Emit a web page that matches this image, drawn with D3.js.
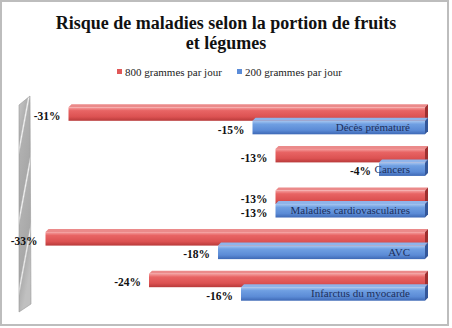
<!DOCTYPE html>
<html><head><meta charset="utf-8">
<script src="https://cdn.jsdelivr.net/npm/d3@7/dist/d3.min.js"></script>
<style>body{margin:0;background:#fff}svg{display:block}</style>
</head><body>
<script>
const categories = ["Décès prématuré","Cancers","Maladies cardiovasculaires","AVC","Infarctus du myocarde"];
const seriesNames = ["800 grammes par jour","200 grammes par jour"];
const values800 = [-31,-13,-13,-33,-24];
const values200 = [-15,-4,-13,-18,-16];
const title = ["Risque de maladies selon la portion de fruits","et légumes"];

const W=452,H=328;
const svg=d3.select("body").append("svg").attr("width",W).attr("height",H);
const defs=svg.append("defs");
function grad(id,stops){
  const g=defs.append("linearGradient").attr("id",id).attr("x1",0).attr("y1",0).attr("x2",0).attr("y2",1);
  stops.forEach(s=>g.append("stop").attr("offset",s[0]).attr("stop-color",s[1]));
}
grad("gRed",[[0,"#f5a0a0"],[0.25,"#e86464"],[0.7,"#dc5252"],[1,"#b83a3a"]]);
grad("gBlue",[[0,"#a7c6f0"],[0.25,"#6f9fe2"],[0.7,"#5b8bd6"],[1,"#3d68b5"]]);
const wg=defs.append("linearGradient").attr("id","gWall").attr("x1",0).attr("y1",0).attr("x2",0.3).attr("y2",1);
[[0,"#c8c8c8"],[0.2,"#b0b0b0"],[0.23,"#f4f4f4"],[0.26,"#b0b0b0"],[0.5,"#a8a8a8"],[0.53,"#f4f4f4"],[0.56,"#b0b0b0"],[0.8,"#a8a8a8"],[0.83,"#eeeeee"],[0.86,"#b0b0b0"],[1,"#c0c0c0"]]
  .forEach(s=>wg.append("stop").attr("offset",s[0]).attr("stop-color",s[1]));

// border
svg.append("rect").attr("x",1).attr("y",1).attr("width",447).attr("height",324)
  .attr("fill","#fff").attr("stroke","#bdbdbd").attr("stroke-width",2);

// title
svg.append("text").attr("text-anchor","middle").attr("font-family","Liberation Serif, serif")
  .attr("font-weight","bold").attr("font-size",18).attr("fill","#111")
  .selectAll("tspan").data(title).join("tspan").attr("x",226).attr("y",(d,i)=>29+i*20).text(d=>d);

// legend
const colors=["#e05858","#5b8cd8"];
const legX=[117,237];
const leg=svg.append("g");
seriesNames.forEach((s,i)=>{
  leg.append("rect").attr("x",legX[i]).attr("y",69).attr("width",5).attr("height",5).attr("fill",colors[i]);
  leg.append("text").attr("x",legX[i]+8).attr("y",75.5).attr("font-family","Liberation Serif, serif")
    .attr("font-size",11).attr("fill","#222").text(s);
});

const x=d3.scaleLinear().domain([-35,0]).range([22.5,425]);
const y=d3.scaleBand().domain(categories).range([100,308]).paddingInner(0.35).paddingOuter(0.175);
const ys=d3.scaleBand().domain([0,1]).range([0,y.bandwidth()]);

// wall
svg.append("path").attr("d","M19,105 L30,96 L31,304 L19,312 Z").attr("fill","url(#gWall)").attr("stroke","#999").attr("stroke-width",0.6);

const dd=3;
const data=[];
categories.forEach((c,i)=>{
  data.push({c,s:0,v:values800[i]});
  data.push({c,s:1,v:values200[i]});
});
const bars=svg.append("g");
data.forEach(d=>{
  const x0=x(d.v), x1=x(0), y0=y(d.c)+ys(d.s), h=ys.bandwidth();
  const g=bars.append("g");
  g.append("path").attr("d",`M${x0},${y0} L${x0+dd},${y0-dd} L${x1+dd},${y0-dd} L${x1},${y0} Z`)
    .attr("fill",d.s?"#8fb4ea":"#eb8a8a");
  g.append("path").attr("d",`M${x1},${y0} L${x1+dd},${y0-dd} L${x1+dd},${y0+h-dd} L${x1},${y0+h} Z`)
    .attr("fill",d.s?"#34579a":"#9e2f2f");
  g.append("rect").attr("x",x0).attr("y",y0).attr("width",x1-x0).attr("height",h)
    .attr("fill",d.s?"url(#gBlue)":"url(#gRed)");
  g.append("text").attr("x",x0-8).attr("y",y0+h/2+6).attr("text-anchor","end")
    .attr("font-family","Liberation Serif, serif").attr("font-weight","bold").attr("font-size",11.5)
    .attr("fill","#111").text(d.v+"%");
});
// category labels
svg.append("g").selectAll("text").data(categories).join("text")
  .attr("x",410).attr("y",c=>y(c)+ys(1)+ys.bandwidth()/2+3.5).attr("text-anchor","end")
  .attr("font-family","Liberation Serif, serif").attr("font-size",11).attr("fill","#1d2f5c").text(c=>c);
</script>
</body></html>
